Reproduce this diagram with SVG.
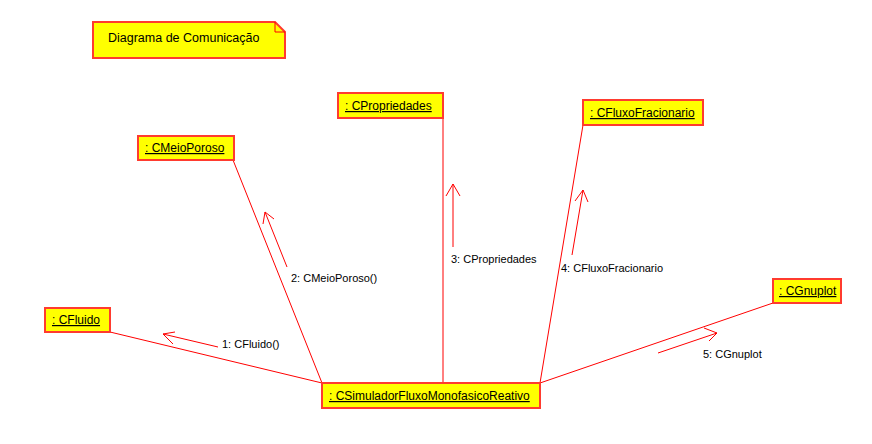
<svg xmlns="http://www.w3.org/2000/svg" width="872" height="444" viewBox="0 0 872 444">
<style>
.node{fill:#ffff00;stroke:#ff3b2f;stroke-width:2}
.nt{font-family:"Liberation Sans",Arial,sans-serif;font-size:12px;fill:#000;text-decoration:underline}
.ln{stroke:#ff0000;stroke-width:1;fill:none}
.lb{font-family:"Liberation Sans",Arial,sans-serif;font-size:11px;fill:#000}
</style>
<rect width="872" height="444" fill="#ffffff"/>
<g id="note">
<path d="M93 22 H275 L285 32 V58 H93 Z" class="node"/>
<path d="M275 22 V32 H285" class="ln"/>
<text x="108" y="42" class="nt" style="text-decoration:none;font-size:12.5px">Diagrama de Comunicação</text>
</g>
<g id="connectors">
<line x1="110" y1="332" x2="322" y2="383" class="ln"/>
<line x1="233" y1="160" x2="322" y2="383" class="ln"/>
<line x1="443" y1="118" x2="443" y2="383" class="ln"/>
<line x1="583" y1="125" x2="540" y2="383" class="ln"/>
<line x1="773" y1="303" x2="540" y2="383" class="ln"/>
<path d="M218 347 L163 334 M175 332 L163 334 L173 344" class="ln"/>
<path d="M287 267 L265 212 M274 219 L265 212 L263 224" class="ln"/>
<path d="M453 247 L453 184 M446 196 L453 184 L460 196" class="ln"/>
<path d="M572 255 L583 190 M575 201 L583 190 L588 202" class="ln"/>
<path d="M658 353 L717 333 M704 328 L717 333 L709 341" class="ln"/>
<text x="222" y="348" class="lb">1: CFluido()</text>
<text x="291" y="282" class="lb">2: CMeioPoroso()</text>
<text x="451" y="263" class="lb">3: CPropriedades</text>
<text x="561" y="272" class="lb">4: CFluxoFracionario</text>
<text x="703" y="358" class="lb">5: CGnuplot</text>
</g>
<g id="CMeioPoroso"><rect x="138" y="136" width="96" height="24" class="node"/><text x="145" y="152" class="nt">: CMeioPoroso</text></g>
<g id="CPropriedades"><rect x="338" y="93" width="105" height="25" class="node"/><text x="345" y="110" class="nt">: CPropriedades</text></g>
<g id="CFluxoFracionario"><rect x="583" y="100" width="120" height="25" class="node"/><text x="590" y="117" class="nt">: CFluxoFracionario</text></g>
<g id="CFluido"><rect x="45" y="308" width="65" height="24" class="node"/><text x="52" y="324" class="nt">: CFluido</text></g>
<g id="CGnuplot"><rect x="773" y="279" width="68" height="24" class="node"/><text x="779" y="295" class="nt">: CGnuplot</text></g>
<g id="CSimulador"><rect x="322" y="383" width="218" height="25" class="node"/><text x="329" y="400" class="nt">: CSimuladorFluxoMonofasicoReativo</text></g>
</svg>
